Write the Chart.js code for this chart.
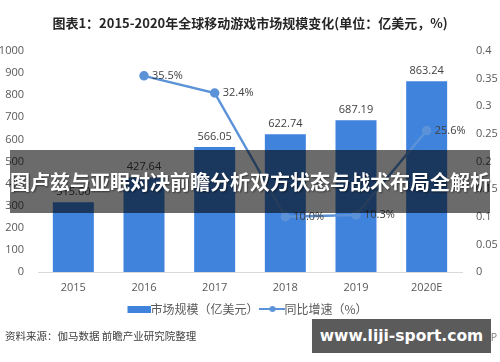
<!DOCTYPE html>
<html>
<head>
<meta charset="utf-8">
<script src="https://cdn.jsdelivr.net/npm/chart.js@4.4.0/dist/chart.umd.min.js"></script>
<style>
  body { margin: 0; background: #fff; }
  #wrap { position: relative; width: 500px; height: 362px; overflow: hidden; font-family: "Noto Sans CJK SC", sans-serif; }
  #title { position: absolute; left: 0; width: 500px; top: 13px; text-align: center; font-size: 13px; font-weight: bold; color: #262626; }
  #source { position: absolute; left: 5px; top: 328px; font-size: 10.5px; color: #404040; }
  #app { position: absolute; right: 3px; top: 329px; font-size: 10px; color: #7f7f7f; }
  #banner { position: absolute; left: 10px; top: 150px; width: 480px; height: 63px; background: rgba(0,0,0,0.58);
            color: #fff; font-size: 20px; font-weight: bold; line-height: 63px; text-align: center; white-space: nowrap;
            text-shadow: 1px 1px 2px rgba(0,0,0,0.5); }
  #site { position: absolute; left: 312px; top: 319px; width: 179px; height: 34px; background: #5b5b5b;
          color: #fff; font-family: "DejaVu Sans", sans-serif; font-weight: bold; font-size: 15.5px; line-height: 34px; text-align: center; }
</style>
</head>
<body>
<div id="wrap">
  <canvas id="myChart" width="500" height="362"></canvas>
  <div id="title">图表1：2015-2020年全球移动游戏市场规模变化(单位：亿美元，%)</div>
  <div id="source">资料来源：伽马数据 前瞻产业研究院整理</div>
  <div id="app">前瞻经济学人APP</div>
  <div id="banner">图卢兹与亚眠对决前瞻分析双方状态与战术布局全解析</div>
  <div id="site">www.liji-sport.com</div>
</div>
<script>
const years = ["2015", "2016", "2017", "2018", "2019", "2020E"];
const marketSize = [315.6, 427.64, 566.05, 622.74, 687.19, 863.24];
const growthRate = [null, 0.355, 0.324, 0.100, 0.103, 0.256];
const growthText = ["", "35.5%", "32.4%", "10.0%", "10.3%", "25.6%"];

const barColor = "#3f83dd";
const lineColor = "#5b92d8";
const ctx = document.getElementById('myChart');

// little legend images
const makeIcon = (isLine) => {
    const c = document.createElement('canvas');
    c.width = 26; c.height = 8;
    const g = c.getContext('2d');
    if (isLine) {
        g.strokeStyle = lineColor; g.lineWidth = 2;
        g.beginPath(); g.moveTo(0, 4); g.lineTo(26, 4); g.stroke();
        g.fillStyle = lineColor;
        g.beginPath(); g.arc(13, 4, 3, 0, Math.PI * 2); g.fill();
    } else {
        g.fillStyle = barColor;
        g.fillRect(2, 1, 24, 7);
    }
    return c;
};
const barIcon = makeIcon(false);
const lineIcon = makeIcon(true);

const labelsPlugin = {
    id: 'valueLabels',
    afterDatasetsDraw(chart) {
        const g = chart.ctx;
        g.save();
        g.font = '11px "Open Sans", "Noto Sans", sans-serif';
        g.fillStyle = '#404040';
        chart.getDatasetMeta(0).data.forEach((bar, i) => {
            g.textAlign = 'center';
            g.textBaseline = 'bottom';
            g.fillText(marketSize[i].toFixed(2), bar.x, bar.y - 5);
        });
        chart.getDatasetMeta(1).data.forEach((pt, i) => {
            if (!growthText[i]) return;
            g.textAlign = 'left';
            g.textBaseline = 'middle';
            g.fillText(growthText[i], pt.x + 8, pt.y);
        });
        g.restore();
    }
};

const tickFont = { size: 11, family: '"Open Sans", sans-serif' };

const config = {
    data: {
        labels: years,
        datasets: [
            {
                type: 'bar',
                label: '市场规模（亿美元）',
                data: marketSize,
                backgroundColor: barColor,
                yAxisID: 'y',
                categoryPercentage: 0.58,
                barPercentage: 1,
                order: 2
            },
            {
                type: 'line',
                label: '同比增速（%）',
                data: growthRate,
                borderColor: lineColor,
                backgroundColor: lineColor,
                borderWidth: 2.5,
                pointRadius: 3.5,
                pointHoverRadius: 3.5,
                yAxisID: 'y1',
                order: 1
            }
        ]
    },
    options: {
        responsive: false,
        animation: false,
        layout: { padding: { top: 51, bottom: 37, left: 0, right: 0 } },
        plugins: {
            title: { display: false },
            tooltip: { enabled: false },
            legend: {
                position: 'bottom',
                labels: {
                    usePointStyle: true,
                    generateLabels: (chart) => chart.data.datasets.map((ds, i) => ({
                        text: ds.label,
                        pointStyle: i === 0 ? barIcon : lineIcon,
                        fontColor: '#595959',
                        datasetIndex: i,
                        lineWidth: 0
                    })),
                    font: { family: '"Noto Sans CJK SC"', size: 12 },
                    color: '#595959',
                    padding: 8
                }
            }
        },
        scales: {
            x: {
                grid: { display: false },
                border: { color: '#d9d9d9' },
                ticks: { color: '#595959', font: tickFont, padding: 1 },
                afterFit: (s) => { s.height = 23; }
            },
            y: {
                position: 'left',
                min: 0, max: 1000,
                grid: { display: false },
                border: { display: false },
                ticks: { stepSize: 100, color: '#595959', font: tickFont, padding: 6, callback: (v) => String(v) },
                afterFit: (s) => { s.width = 38; }
            },
            y1: {
                position: 'right',
                min: 0, max: 0.4,
                grid: { display: false },
                border: { display: false },
                ticks: { stepSize: 0.05, color: '#595959', font: tickFont, padding: 6, callback: (v) => String(Math.round(v * 100) / 100) },
                afterFit: (s) => { s.width = 38; }
            }
        }
    },
    plugins: [labelsPlugin]
};

const graph = new Chart(ctx, config);
</script>
</body>
</html>
